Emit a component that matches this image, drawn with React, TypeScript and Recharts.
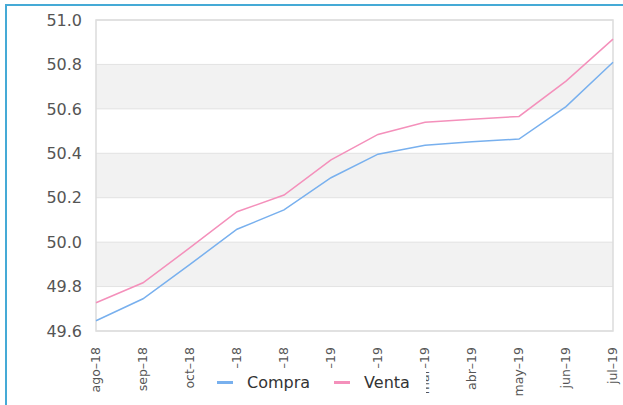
import { LineChart, Line, XAxis, YAxis, CartesianGrid, Legend, ReferenceArea } from 'recharts';

const months = ['ago–18', 'sep–18', 'oct–18', 'nov–18', 'dic–18', 'ene–19', 'feb–19', 'mar–19', 'abr–19', 'may–19', 'jun–19', 'jul–19'];
const compra = [49.646, 49.745, 49.9, 50.058, 50.145, 50.29, 50.396, 50.436, 50.452, 50.464, 50.61, 50.81];
const venta = [49.727, 49.817, 49.975, 50.137, 50.212, 50.37, 50.485, 50.54, 50.553, 50.566, 50.725, 50.914];
const yTicks = [49.6, 49.8, 50.0, 50.2, 50.4, 50.6, 50.8, 51.0];

const BLUE = '#78b0ee';
const PINK = '#f490bb';

const data = months.map((m, i) => ({ mes: m, compra: compra[i], venta: venta[i] }));

// rotated month labels, end of text sits just under the plot
const MonthTick = ({ x, y, payload }: any) => (
  <g transform={`translate(${x},${y})`}>
    <text
      transform="rotate(-90)"
      textAnchor="end"
      dy="0.35em"
      fontSize={12.5}
      fill="#555"
      fontFamily="DejaVu Sans, sans-serif"
    >
      {payload.value}
    </text>
  </g>
);

const LegendBox = ({ payload }: any) => (
  <div style={{ display: 'flex', alignItems: 'center', height: 27, paddingLeft: 10, paddingTop: 2, boxSizing: 'border-box' }}>
    {(payload || []).map((p: any) => (
      <div key={p.value} style={{ display: 'flex', alignItems: 'center', marginRight: 24 }}>
        <span style={{ display: 'inline-block', width: 16, height: 3, background: p.color, marginRight: 14 }} />
        <span style={{ fontSize: 16, color: '#333', fontFamily: 'DejaVu Sans, sans-serif' }}>{p.value}</span>
      </div>
    ))}
  </div>
);

export default function App() {
  return (
    <div style={{ position: 'absolute', left: 0, top: 0, width: 623, height: 405, overflow: 'hidden', background: '#fff' }}>
      <div
        style={{
          position: 'absolute',
          left: 5,
          top: 4,
          width: 640,
          height: 420,
          borderLeft: '2px solid #45aad6',
          borderTop: '2px solid #45aad6',
        }}
      />
      <div style={{ position: 'absolute', left: 0, top: 0 }}>
        <LineChart width={623} height={405} data={data} margin={{ top: 20, right: 10, bottom: 0, left: 0 }}>
          <CartesianGrid vertical={false} stroke="#e3e3e3" horizontalFill={['#ffffff', '#f2f2f2']} />
          <ReferenceArea x1={months[0]} x2={months[months.length - 1]} y1={49.6} y2={51.0} fill="none" stroke="#dcdcdc" strokeWidth={1.5} />
          <XAxis
            dataKey="mes"
            height={74}
            axisLine={false}
            tickLine={false}
            tickSize={0}
            tickMargin={16}
            interval={0}
            tick={<MonthTick />}
          />
          <YAxis
            width={96}
            domain={[49.6, 51.0]}
            ticks={yTicks}
            axisLine={false}
            tickLine={false}
            tickMargin={8}
            tickFormatter={(v: number) => v.toFixed(1)}
            tick={{ fill: '#555', fontSize: 16, fontFamily: 'DejaVu Sans, sans-serif' }}
          />
          <Legend
            layout="horizontal"
            verticalAlign="middle"
            align="center"
            content={<LegendBox />}
            wrapperStyle={{ left: 207, top: 368, width: 219, height: 27, background: '#fff' }}
          />
          <Line type="linear" dataKey="compra" name="Compra" stroke={BLUE} strokeWidth={1.5} dot={false} isAnimationActive={false} />
          <Line type="linear" dataKey="venta" name="Venta" stroke={PINK} strokeWidth={1.5} dot={false} isAnimationActive={false} />
        </LineChart>
      </div>
    </div>
  );
}
